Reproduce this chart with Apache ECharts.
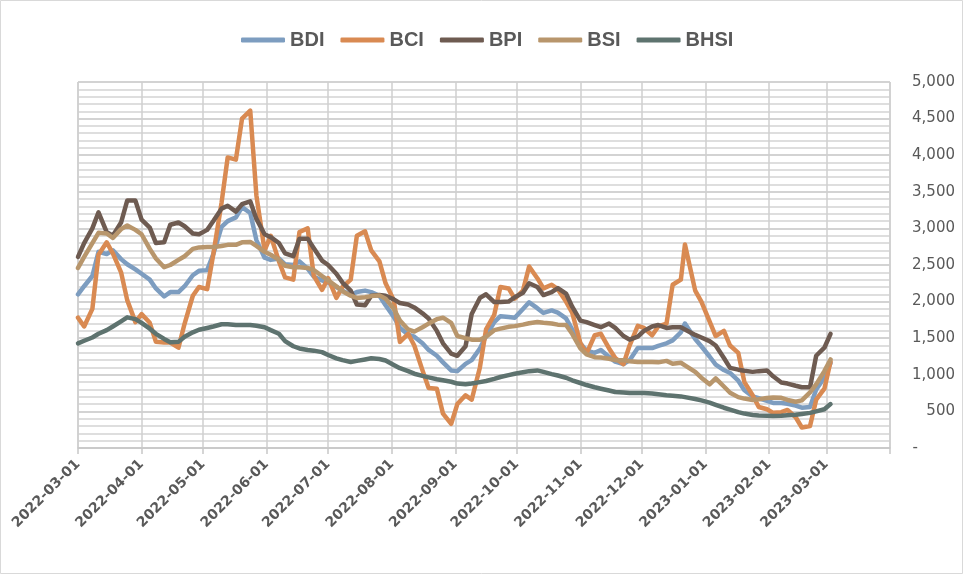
<!DOCTYPE html>
<html>
<head>
<meta charset="utf-8">
<title>BDI / BCI / BPI / BSI / BHSI</title>
<script src="https://cdn.jsdelivr.net/npm/echarts@6.0.0/dist/echarts.min.js"></script>
<style>
html, body { margin: 0; padding: 0; background: #fff; }
#chart { width: 963px; height: 574px; }
</style>
</head>
<body>
<div id="chart"></div>
<script>
// sample dates (twice a week)
const dates = [
    '2022-03-01','2022-03-04','2022-03-08','2022-03-11','2022-03-15','2022-03-18','2022-03-22','2022-03-25','2022-03-29',
    '2022-04-01','2022-04-05','2022-04-08','2022-04-12','2022-04-15','2022-04-19','2022-04-22','2022-04-26','2022-04-29',
    '2022-05-03','2022-05-06','2022-05-10','2022-05-13','2022-05-17','2022-05-20','2022-05-24','2022-05-27','2022-05-31',
    '2022-06-03','2022-06-07','2022-06-10','2022-06-14','2022-06-17','2022-06-21','2022-06-24','2022-06-28',
    '2022-07-01','2022-07-05','2022-07-08','2022-07-12','2022-07-15','2022-07-19','2022-07-22','2022-07-26','2022-07-29',
    '2022-08-02','2022-08-05','2022-08-09','2022-08-12','2022-08-16','2022-08-19','2022-08-23','2022-08-26','2022-08-30',
    '2022-09-02','2022-09-06','2022-09-09','2022-09-13','2022-09-16','2022-09-20','2022-09-23','2022-09-27','2022-09-30',
    '2022-10-04','2022-10-07','2022-10-11','2022-10-14','2022-10-18','2022-10-21','2022-10-25','2022-10-28',
    '2022-11-01','2022-11-04','2022-11-08','2022-11-11','2022-11-15','2022-11-18','2022-11-22','2022-11-25','2022-11-29',
    '2022-12-02','2022-12-06','2022-12-09','2022-12-13','2022-12-16','2022-12-20','2022-12-22','2022-12-27','2022-12-30',
    '2023-01-03','2023-01-06','2023-01-10','2023-01-13','2023-01-17','2023-01-20','2023-01-24','2023-01-27','2023-01-31',
    '2023-02-03','2023-02-07','2023-02-10','2023-02-14','2023-02-17','2023-02-21','2023-02-24','2023-02-28',
    '2023-03-03'
];

const bdi = [
    2100, 2210, 2350, 2680, 2650, 2700, 2580, 2510, 2440,
    2380, 2300, 2180, 2070, 2130, 2130, 2210, 2360, 2420,
    2430, 2650, 3020, 3100, 3150, 3290, 3210, 2840, 2600,
    2570, 2590, 2510, 2500, 2550, 2450, 2340, 2290,
    2260, 2200, 2150, 2090, 2130, 2150, 2130, 2080, 1950,
    1790, 1640, 1550, 1520, 1430, 1340, 1260, 1170, 1060,
    1050, 1150, 1200, 1360, 1530, 1720, 1800, 1790, 1780,
    1900, 1990, 1910, 1845, 1880, 1850, 1770, 1620,
    1430, 1330, 1300, 1340, 1245, 1180, 1145, 1200, 1366,
    1366, 1366, 1395, 1430, 1470, 1580, 1700, 1490, 1390,
    1250, 1140, 1065, 1025, 920, 790, 705, 680, 645,
    615, 615, 605, 580, 550, 560, 800, 960,
    1160
];

const bci = [
    1780, 1660, 1900, 2640, 2810, 2660, 2400, 2020, 1720,
    1830, 1710, 1450, 1440, 1440, 1370, 1700, 2080, 2200,
    2170, 2650, 3350, 3970, 3940, 4500, 4610, 3450, 2700,
    2900, 2550, 2330, 2300, 2950, 3000, 2350, 2160,
    2320, 2050, 2200, 2300, 2900, 2960, 2700, 2550, 2250,
    2020, 1450, 1560, 1400, 1060, 820, 810, 470, 330,
    600, 720, 660, 1100, 1620, 1820, 2200, 2180, 2040,
    2150, 2480, 2320, 2180, 2230, 2170, 2000, 1850,
    1434, 1290, 1540, 1560, 1360, 1230, 1145, 1400, 1670,
    1640, 1540, 1660, 1700, 2230, 2300, 2780, 2150, 2000,
    1730, 1530, 1600, 1400, 1300, 900, 720, 560, 530,
    480, 490, 520, 420, 280, 300, 660, 810,
    1180
];

const bpi = [
    2610, 2800, 3000, 3220, 2950, 2900, 3080, 3380, 3380,
    3120, 3010, 2800, 2810, 3050, 3080, 3030, 2930, 2920,
    2980, 3100, 3270, 3310, 3230, 3330, 3370, 3130, 2920,
    2880, 2800, 2660, 2620, 2860, 2860, 2730, 2560,
    2500, 2380, 2260, 2150, 1960, 1950, 2080, 2090, 2080,
    2030, 1980, 1960, 1920, 1840, 1770, 1600, 1430, 1290,
    1260, 1390, 1830, 2050, 2100, 1994, 1994, 2000, 2060,
    2120, 2250, 2200, 2090, 2130, 2185, 2110, 1930,
    1740, 1720, 1680, 1650, 1700, 1640, 1530, 1480, 1520,
    1600, 1660, 1680, 1640, 1650, 1650, 1620, 1545, 1510,
    1460, 1400, 1230, 1095, 1070, 1055, 1040, 1050, 1060,
    980, 895, 880, 850, 830, 830, 1260, 1370,
    1560
];

const bsi = [
    2460, 2610, 2800, 2940, 2930, 2870, 2990, 3040, 2980,
    2920, 2720, 2590, 2470, 2500, 2570, 2620, 2720, 2740,
    2745, 2745, 2760, 2775, 2775, 2810, 2815, 2760, 2680,
    2640, 2570, 2490, 2470, 2470, 2460, 2430, 2350,
    2290, 2210, 2140, 2080, 2050, 2060, 2075, 2085, 2040,
    1900, 1740, 1620, 1590, 1650, 1700, 1760, 1780, 1710,
    1530, 1500, 1480, 1480, 1520, 1610, 1630, 1655, 1665,
    1685, 1705, 1720, 1710, 1700, 1685, 1680, 1560,
    1360, 1280, 1240, 1235, 1220, 1200, 1200, 1185, 1175,
    1175, 1175, 1170, 1190, 1150, 1165, 1130, 1040, 960,
    870, 950, 840, 755, 695, 675, 657, 665, 683,
    690, 685, 656, 632, 650, 760, 870, 1050,
    1210
];

const bhsi = [
    1430, 1465, 1510, 1560, 1610, 1660, 1730, 1785, 1760,
    1710, 1630, 1560, 1490, 1445, 1450, 1520, 1580, 1615,
    1640, 1660, 1690, 1690, 1680, 1680, 1680, 1670, 1650,
    1610, 1560, 1460, 1390, 1360, 1340, 1330, 1310,
    1270, 1225, 1200, 1175, 1190, 1210, 1225, 1215, 1195,
    1134, 1090, 1050, 1015, 985, 965, 940, 925, 905,
    880, 870, 880, 900, 915, 945, 970, 995, 1015,
    1035, 1050, 1060, 1040, 1010, 990, 960, 925,
    888, 860, 830, 810, 785, 765, 758, 752, 751,
    751, 745, 735, 720, 715, 705, 695, 670, 650,
    620, 590, 550, 525, 490, 470, 452, 445, 440,
    437, 440, 448, 455, 465, 480, 500, 530,
    600
];

const names = ['BDI', 'BCI', 'BPI', 'BSI', 'BHSI'];
const colors = ['#7d9dc0', '#d98a52', '#6e5b51', '#b8966c', '#5e736f'];
const values = [bdi, bci, bpi, bsi, bhsi];

const DAY = 24 * 3600 * 1000;
const lastLabel = new Date('2023-03-15').getTime();

const chart = echarts.init(document.getElementById('chart'));
chart.setOption({
    animation: false,
    backgroundColor: '#fff',
    graphic: [{
        type: 'rect',
        silent: true,
        z: -10,
        shape: { x: 0.5, y: 0.5, width: 962, height: 573 },
        style: { fill: 'none', stroke: '#d9d9d9', lineWidth: 1 },
    }],
    legend: {
        top: 25,
        left: 236,
        icon: 'roundRect',
        itemWidth: 44,
        itemHeight: 5,
        itemGap: 16,
        data: names,
        textStyle: {
            fontFamily: 'Liberation Sans',
            fontWeight: 'bold',
            fontSize: 20,
            color: '#595959',
        },
    },
    grid: { left: 78, right: 73, top: 82, bottom: 126 },
    xAxis: {
        type: 'time',
        min: '2022-03-01',
        max: '2023-04-01',
        splitNumber: 13,
        minInterval: 28 * DAY,
        maxInterval: 31 * DAY,
        axisLine: { lineStyle: { color: '#c8c8c8', width: 1.5 } },
        axisTick: { show: true, length: 6, lineStyle: { color: '#c8c8c8', width: 1.5 } },
        splitLine: { show: true, lineStyle: { color: '#cfcfcf', width: 1.5 } },
        axisLabel: {
            rotate: 45,
            margin: 14,
            color: '#595959',
            fontFamily: 'DejaVu Sans',
            fontWeight: 'bold',
            fontSize: 14,
            hideOverlap: false,
            formatter: (v) => (v > lastLabel ? '' : echarts.time.format(v, '{yyyy}-{MM}-{dd}', false)),
        },
    },
    yAxis: {
        type: 'value',
        position: 'right',
        min: 0,
        max: 5000,
        interval: 500,
        axisLine: { show: false },
        axisTick: { show: false },
        splitLine: { lineStyle: { color: '#c4c4c4', width: 1.5 } },
        minorTick: { show: false, splitNumber: 5 },
        minorSplitLine: { show: true, lineStyle: { color: '#d4d4d4', width: 1.5 } },
        axisLabel: {
            margin: 65,
            align: 'right',
            color: '#595959',
            fontFamily: 'DejaVu Sans',
            fontSize: 15,
            formatter: (v) => (v === 0 ? '{z|-}' : v.toLocaleString('en-US')),
            rich: {
                z: { padding: [0, 37, 0, 0], fontFamily: 'DejaVu Sans', fontSize: 15, color: '#595959' },
            },
        },
    },
    series: names.map((n, i) => {
        return {
            name: n,
            type: 'line',
            color: colors[i],
            showSymbol: false,
            symbol: 'none',
            lineStyle: { width: 4.5, color: colors[i], cap: 'round', join: 'round' },
            data: dates.map((d, k) => [d, values[i][k]]),
        };
    }),
});
</script>
</body>
</html>
